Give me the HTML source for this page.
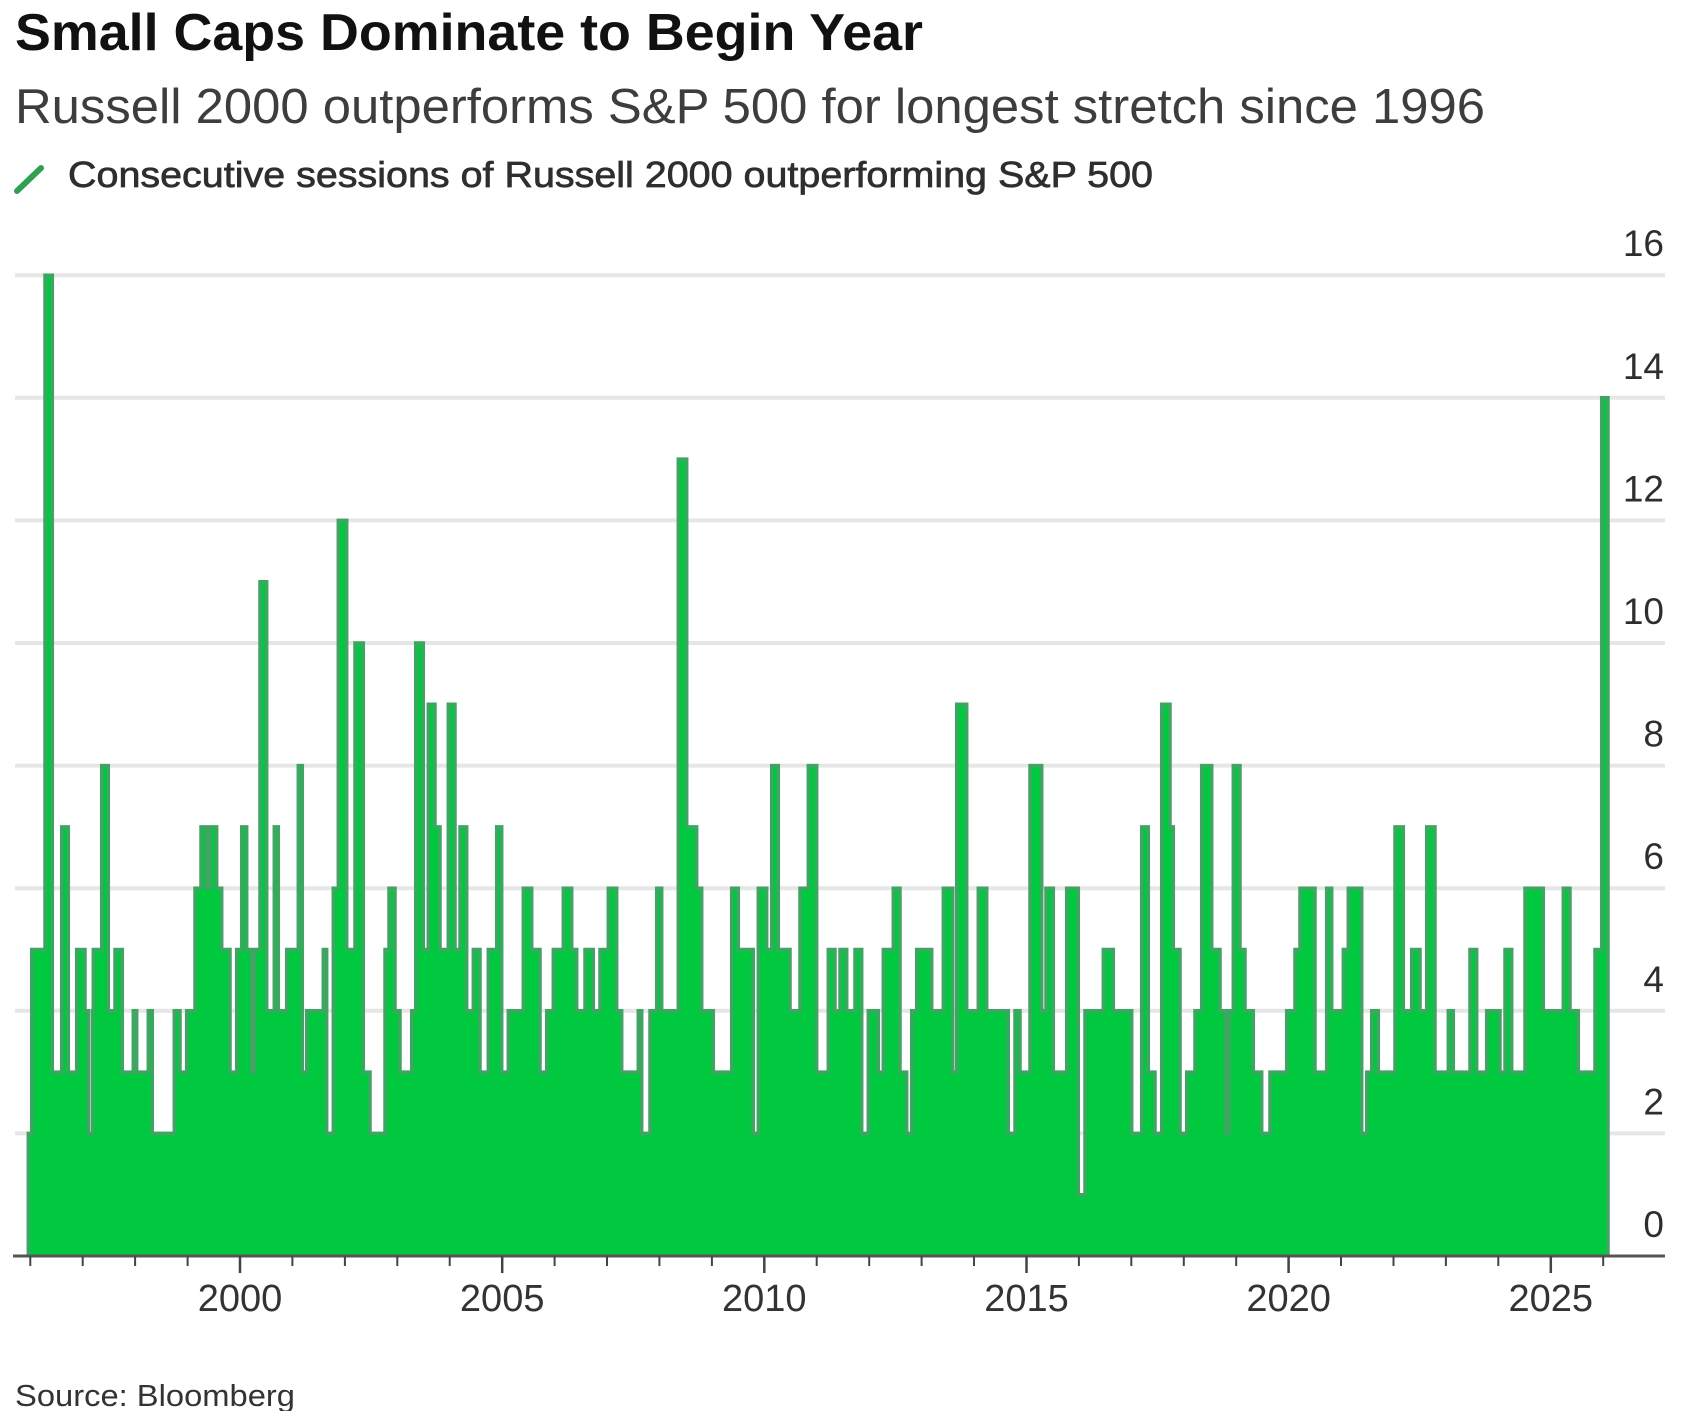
<!DOCTYPE html>
<html>
<head>
<meta charset="utf-8">
<style>
html,body{margin:0;padding:0;background:#fff;}
svg{display:block;}
text{font-family:"Liberation Sans",Arial,sans-serif;}
</style>
</head>
<body>
<svg width="1706" height="1411" viewBox="0 0 1706 1411" xmlns="http://www.w3.org/2000/svg">
<rect width="1706" height="1411" fill="#fff"/>
<!-- Title -->
<text x="15" y="50" font-size="52" font-weight="bold" fill="#111" textLength="908" lengthAdjust="spacingAndGlyphs">Small Caps Dominate to Begin Year</text>
<text x="15" y="123" font-size="49" fill="#3d3d3d" textLength="1470" lengthAdjust="spacingAndGlyphs">Russell 2000 outperforms S&amp;P 500 for longest stretch since 1996</text>
<!-- Legend -->
<line x1="17" y1="191" x2="41" y2="168" stroke="#2fa050" stroke-width="6" stroke-linecap="round"/>
<text x="68" y="187" font-size="36" fill="#2e2e2e" stroke="#2e2e2e" stroke-width="0.7" textLength="1085" lengthAdjust="spacingAndGlyphs">Consecutive sessions of Russell 2000 outperforming S&amp;P 500</text>

<!-- Gridlines -->
<g stroke="#e6e6e6" stroke-width="4">
<line x1="15" y1="275.2" x2="1665" y2="275.2"/>
<line x1="15" y1="397.8" x2="1665" y2="397.8"/>
<line x1="15" y1="520.4" x2="1665" y2="520.4"/>
<line x1="15" y1="643" x2="1665" y2="643"/>
<line x1="15" y1="765.6" x2="1665" y2="765.6"/>
<line x1="15" y1="888.2" x2="1665" y2="888.2"/>
<line x1="15" y1="1010.8" x2="1665" y2="1010.8"/>
<line x1="15" y1="1133.4" x2="1665" y2="1133.4"/>
</g>

<!-- Area -->
<path id="area" fill="#00c940" d="M28.3 1256 V1133.4 H31.7 V949.5 H45 V275.2 H52.3 V1072.1 H61.7 V826.9 H68.3 V1072.1 H76.7 V949.5 H85 V1010.8 H88.3 V1133.4 H92.3 V1010.8 H93.3 V949.5 H101.7 V765.6 H108.3 V1010.8 H115 V949.5 H122.3 V1072.1 H133.3 V1010.8 H136.7 V1072.1 H148.3 V1010.8 H152.3 V1133.4 H174.3 V1010.8 H180 V1072.1 H186.7 V1010.8 H195 V888.2 H201 V826.9 H206.7 V888.2 H210 V826.9 H216.7 V888.2 H221.7 V949.5 H230 V1072.1 H236.7 V949.5 H241.7 V826.9 H246.7 V949.5 H251.7 V1072.1 H254.3 V949.5 H260 V581.7 H266.7 V1010.8 H274.3 V826.9 H278.3 V1010.8 H286.7 V949.5 H298.3 V765.6 H302.3 V1072.1 H306.7 V1010.8 H323.3 V949.5 H326.7 V1133.4 H333.3 V888.2 H338.3 V520.4 H346.7 V949.5 H355 V643 H363.3 V1072.1 H370 V1133.4 H385 V949.5 H389 V888.2 H395 V1010.8 H400 V1072.1 H411.7 V1010.8 H415.7 V643 H423.3 V949.5 H428.3 V704.3 H435 V826.9 H440 V949.5 H448.3 V704.3 H455 V949.5 H460 V826.9 H466.7 V1010.8 H473.3 V949.5 H480 V1072.1 H488.3 V949.5 H496.7 V826.9 H501.7 V1072.1 H508.3 V1010.8 H523.3 V888.2 H531.7 V949.5 H540 V1072.1 H546.7 V1010.8 H553.3 V949.5 H563.3 V888.2 H571.7 V949.5 H576.7 V1010.8 H585 V949.5 H593.3 V1010.8 H600 V949.5 H608.3 V888.2 H616.7 V1010.8 H621.7 V1072.1 H638.3 V1010.8 H641.7 V1133.4 H650 V1010.8 H656.7 V888.2 H661.7 V1010.8 H678.3 V459.1 H686.7 V826.9 H696.7 V888.2 H701.7 V1010.8 H713.3 V1072.1 H731.7 V888.2 H738.3 V949.5 H753.3 V1133.4 H758.3 V888.2 H766.7 V949.5 H771.7 V765.6 H778.3 V949.5 H790 V1010.8 H800 V888.2 H808.3 V765.6 H816.7 V1072.1 H828.3 V949.5 H835 V1010.8 H840 V949.5 H846.7 V1010.8 H855 V949.5 H861.7 V1133.4 H868.3 V1010.8 H878.3 V1072.1 H883.3 V949.5 H893.3 V888.2 H900 V1072.1 H906.7 V1133.4 H911.7 V1010.8 H916.7 V949.5 H931.7 V1010.8 H943.3 V888.2 H952.7 V1072.1 H956.7 V704.3 H966.7 V1010.8 H978.3 V888.2 H986.7 V1010.8 H1008.3 V1133.4 H1015 V1010.8 H1020 V1072.1 H1030 V765.6 H1041.7 V1010.8 H1046 V888.2 H1053.3 V1072.1 H1066.7 V888.2 H1078.3 V1194.7 H1085 V1010.8 H1103.3 V949.5 H1113.3 V1010.8 H1131.7 V1133.4 H1141.7 V826.9 H1148.3 V1072.1 H1155 V1133.4 H1161.7 V704.3 H1170 V826.9 H1173.3 V949.5 H1180 V1133.4 H1186.7 V1072.1 H1195 V1010.8 H1201.7 V765.6 H1211.7 V949.5 H1220 V1010.8 H1226 V1133.4 H1229 V1010.8 H1233.3 V765.6 H1240 V949.5 H1245 V1010.8 H1253.3 V1072.1 H1261.7 V1133.4 H1270 V1072.1 H1286.7 V1010.8 H1295 V949.5 H1300 V888.2 H1315 V1072.1 H1326.7 V888.2 H1331.7 V1010.8 H1343.3 V949.5 H1348.3 V888.2 H1361.7 V1133.4 H1366.7 V1072.1 H1371.7 V1010.8 H1378.3 V1072.1 H1395 V826.9 H1403.3 V1010.8 H1411.7 V949.5 H1420 V1010.8 H1426.7 V826.9 H1435 V1072.1 H1448.3 V1010.8 H1453.3 V1072.1 H1470 V949.5 H1476.7 V1072.1 H1486.7 V1010.8 H1500 V1072.1 H1505 V949.5 H1511.7 V1072.1 H1525 V888.2 H1543.3 V1010.8 H1563.3 V888.2 H1570 V1010.8 H1578.3 V1072.1 H1595 V949.5 H1601.7 V397.8 H1608 V1256 Z"/>
<use href="#area" fill="none" stroke="#40a562" stroke-width="3.5"/>
<rect x="20" y="1255" width="1595" height="8" fill="#fff"/>

<!-- Axis -->
<line x1="13" y1="1256" x2="1665" y2="1256" stroke="#555" stroke-width="3"/>
<g stroke="#444" stroke-width="2">
<line x1="30.3" y1="1256" x2="30.3" y2="1266"/>
<line x1="82.7" y1="1256" x2="82.7" y2="1266"/>
<line x1="135.1" y1="1256" x2="135.1" y2="1266"/>
<line x1="187.6" y1="1256" x2="187.6" y2="1266"/>
<line x1="240" y1="1256" x2="240" y2="1273" stroke-width="2.5"/>
<line x1="292.4" y1="1256" x2="292.4" y2="1266"/>
<line x1="344.9" y1="1256" x2="344.9" y2="1266"/>
<line x1="397.3" y1="1256" x2="397.3" y2="1266"/>
<line x1="449.7" y1="1256" x2="449.7" y2="1266"/>
<line x1="502.2" y1="1256" x2="502.2" y2="1273" stroke-width="2.5"/>
<line x1="554.6" y1="1256" x2="554.6" y2="1266"/>
<line x1="607" y1="1256" x2="607" y2="1266"/>
<line x1="659.4" y1="1256" x2="659.4" y2="1266"/>
<line x1="711.9" y1="1256" x2="711.9" y2="1266"/>
<line x1="764.3" y1="1256" x2="764.3" y2="1273" stroke-width="2.5"/>
<line x1="816.7" y1="1256" x2="816.7" y2="1266"/>
<line x1="869.2" y1="1256" x2="869.2" y2="1266"/>
<line x1="921.6" y1="1256" x2="921.6" y2="1266"/>
<line x1="974" y1="1256" x2="974" y2="1266"/>
<line x1="1026.5" y1="1256" x2="1026.5" y2="1273" stroke-width="2.5"/>
<line x1="1078.9" y1="1256" x2="1078.9" y2="1266"/>
<line x1="1131.3" y1="1256" x2="1131.3" y2="1266"/>
<line x1="1183.8" y1="1256" x2="1183.8" y2="1266"/>
<line x1="1236.2" y1="1256" x2="1236.2" y2="1266"/>
<line x1="1288.6" y1="1256" x2="1288.6" y2="1273" stroke-width="2.5"/>
<line x1="1341" y1="1256" x2="1341" y2="1266"/>
<line x1="1393.5" y1="1256" x2="1393.5" y2="1266"/>
<line x1="1445.9" y1="1256" x2="1445.9" y2="1266"/>
<line x1="1498.3" y1="1256" x2="1498.3" y2="1266"/>
<line x1="1550.8" y1="1256" x2="1550.8" y2="1273" stroke-width="2.5"/>
<line x1="1603.2" y1="1256" x2="1603.2" y2="1266"/>
</g>

<!-- X labels -->
<g font-size="38" fill="#333" text-anchor="middle">
<text x="240" y="1311">2000</text>
<text x="502.2" y="1311">2005</text>
<text x="764.3" y="1311">2010</text>
<text x="1026.5" y="1311">2015</text>
<text x="1288.6" y="1311">2020</text>
<text x="1550.8" y="1311">2025</text>
</g>

<!-- Y labels -->
<g font-size="37" fill="#2e2e2e" text-anchor="end">
<text x="1664" y="256">16</text>
<text x="1664" y="378.8">14</text>
<text x="1664" y="501.4">12</text>
<text x="1664" y="624">10</text>
<text x="1664" y="746.6">8</text>
<text x="1664" y="869.2">6</text>
<text x="1664" y="991.8">4</text>
<text x="1664" y="1114.4">2</text>
<text x="1664" y="1237">0</text>
</g>

<!-- Source -->
<text x="15" y="1406" font-size="31" fill="#333" textLength="280" lengthAdjust="spacingAndGlyphs">Source: Bloomberg</text>
</svg>
</body>
</html>
